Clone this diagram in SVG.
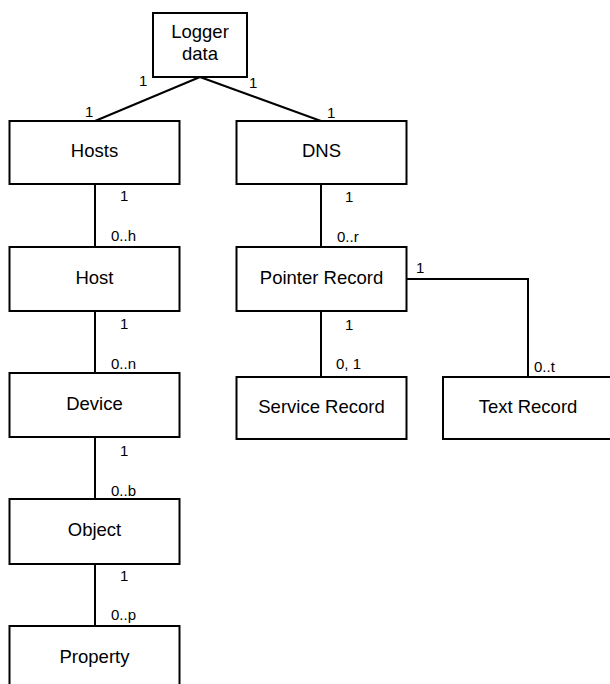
<svg xmlns="http://www.w3.org/2000/svg" width="610" height="684" viewBox="0 0 610 684">
<style>
.box{fill:#fff;stroke:#000;stroke-width:2}
.t{font-family:"Liberation Sans",Arial,sans-serif;font-size:18.5px;fill:#000;text-anchor:middle}
.l{font-family:"Liberation Sans",Arial,sans-serif;font-size:15px;fill:#000}
.c{fill:none;stroke:#000;stroke-width:2}
</style>
<rect width="610" height="684" fill="#fff"/>
<g id="connectors">
<path class="c" d="M200,77 L95,121"/>
<path class="c" d="M200,77 L321,121"/>
<path class="c" d="M95,184 V247"/>
<path class="c" d="M95,311 V373"/>
<path class="c" d="M95,437 V499"/>
<path class="c" d="M95,564 V626"/>
<path class="c" d="M321,184 V247"/>
<path class="c" d="M321,311 V377"/>
<path class="c" d="M406.5,279 H528 V377"/>
<text class="l" x="139" y="86">1</text>
<text class="l" x="249" y="88">1</text>
<text class="l" x="85" y="117">1</text>
<text class="l" x="327" y="118">1</text>
<text class="l" x="120" y="201">1</text>
<text class="l" x="111" y="241">0..h</text>
<text class="l" x="120" y="329">1</text>
<text class="l" x="111" y="369">0..n</text>
<text class="l" x="120" y="456">1</text>
<text class="l" x="111" y="496">0..b</text>
<text class="l" x="120" y="581">1</text>
<text class="l" x="111" y="620">0..p</text>
<text class="l" x="345" y="202">1</text>
<text class="l" x="337" y="242">0..r</text>
<text class="l" x="416" y="273">1</text>
<text class="l" x="345" y="330">1</text>
<text class="l" x="336" y="369">0, 1</text>
<text class="l" x="534" y="372">0..t</text>
</g>
<g id="logger"><rect class="box" x="153" y="13" width="94" height="64"/><text class="t" x="200" y="38">Logger</text><text class="t" x="200" y="60">data</text></g>
<g id="hosts"><rect class="box" x="9.5" y="121" width="170" height="63"/><text class="t" x="94.5" y="157">Hosts</text></g>
<g id="dns"><rect class="box" x="236.5" y="121" width="170" height="63"/><text class="t" x="321.5" y="157">DNS</text></g>
<g id="host"><rect class="box" x="9.5" y="247" width="170" height="64"/><text class="t" x="94.5" y="284">Host</text></g>
<g id="pointer"><rect class="box" x="236.5" y="247" width="170" height="64"/><text class="t" x="321.5" y="284">Pointer Record</text></g>
<g id="device"><rect class="box" x="9.5" y="373" width="170" height="64"/><text class="t" x="94.5" y="410">Device</text></g>
<g id="service"><rect class="box" x="236.5" y="377" width="170" height="62"/><text class="t" x="321.5" y="413">Service Record</text></g>
<g id="text"><rect class="box" x="443" y="377" width="170" height="62"/><text class="t" x="528" y="413">Text Record</text></g>
<g id="object"><rect class="box" x="9.5" y="499" width="170" height="65"/><text class="t" x="94.5" y="536">Object</text></g>
<g id="property"><rect class="box" x="9.5" y="626" width="170" height="64"/><text class="t" x="94.5" y="663">Property</text></g>
</svg>
